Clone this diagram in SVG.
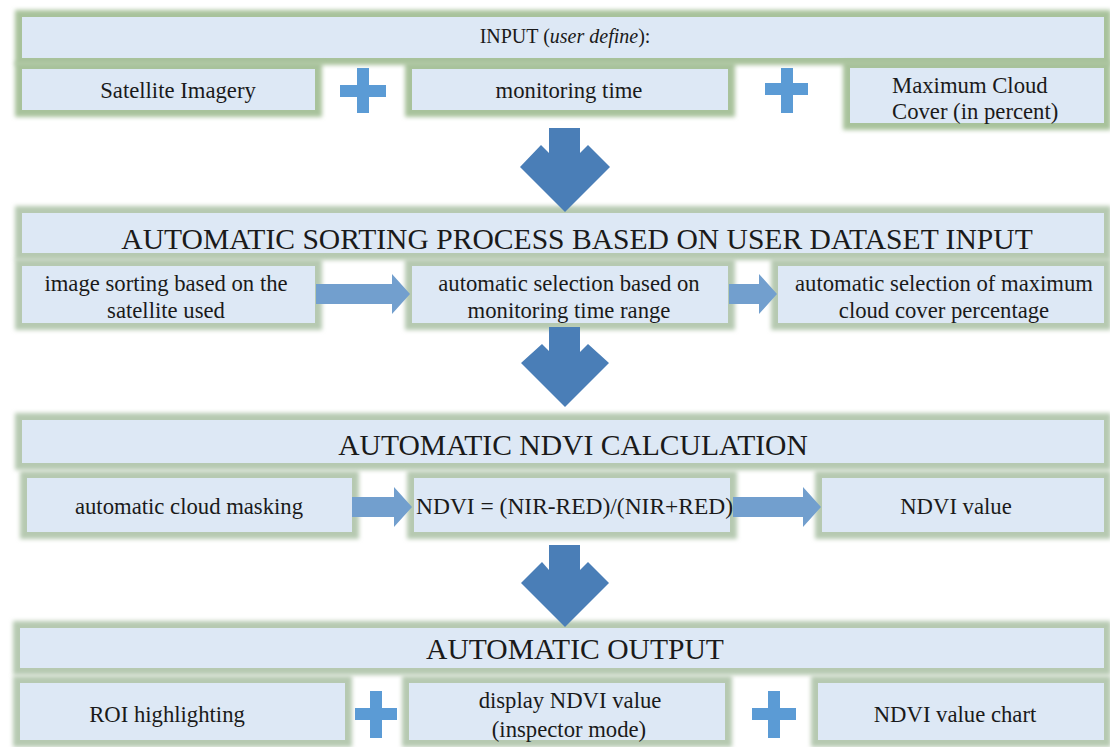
<svg xmlns="http://www.w3.org/2000/svg" width="1110" height="747" viewBox="0 0 1110 747">
<defs>
<filter id="glow" x="-10%" y="-30%" width="120%" height="160%"><feGaussianBlur stdDeviation="2"/></filter>
<style>
.f1{fill:#a8c29b;filter:url(#glow)}
.f{fill:#b6c9b1;filter:url(#glow)}
.b{fill:#dde8f5}
.t{fill:#1a1a1a;text-anchor:middle}
.h{font-size:29.6px}
.r{font-size:22.7px}
.dn{fill:#4a7eb7}
.ra{fill:#729fce}
.pl{fill:#5b9bd5}
</style>
</defs>
<rect width="1110" height="747" fill="#ffffff"/>
<g font-family="Liberation Serif, DejaVu Serif, serif">
<!-- Section 1 -->
<g id="input-header">
<rect class="f1" x="15" y="10" width="1096" height="55"/>
<rect class="b" x="22" y="17" width="1082" height="41"/>
<text class="t" x="565" y="43" font-size="20">INPUT (<tspan font-style="italic">user define</tspan>):</text>
</g>
<g id="satellite-imagery">
<rect class="f1" x="15" y="62" width="307" height="55"/>
<rect class="b" x="22" y="69" width="293" height="41"/>
<text class="t r" x="178" y="98">Satellite Imagery</text>
</g>
<g id="monitoring-time">
<rect class="f1" x="405" y="62" width="330" height="55"/>
<rect class="b" x="412" y="69" width="316" height="41"/>
<text class="t r" x="569" y="98">monitoring time</text>
</g>
<g id="max-cloud">
<rect class="f1" x="843" y="61" width="268" height="69"/>
<rect class="b" x="850" y="68" width="254" height="55"/>
<text class="t r" x="892" y="93" style="text-anchor:start">Maximum Cloud</text>
<text class="t r" x="892" y="119" style="text-anchor:start">Cover (in percent)</text>
</g>

<!-- Section 2 -->
<g id="sorting-header">
<rect class="f" x="15" y="206" width="1096" height="54"/>
<rect class="b" x="22" y="213" width="1082" height="40"/>
<text class="t h" x="577" y="249">AUTOMATIC SORTING PROCESS BASED ON USER DATASET INPUT</text>
</g>
<g id="sort-satellite">
<rect class="f" x="15" y="259" width="307" height="71"/>
<rect class="b" x="22" y="266" width="293" height="57"/>
<text class="t r" x="166" y="291">image sorting based on the</text>
<text class="t r" x="166" y="318">satellite used</text>
</g>
<g id="sort-time">
<rect class="f" x="405" y="259" width="330" height="71"/>
<rect class="b" x="412" y="266" width="316" height="57"/>
<text class="t r" x="569" y="291">automatic selection based on</text>
<text class="t r" x="569" y="318">monitoring time range</text>
</g>
<g id="sort-cloud">
<rect class="f" x="771" y="259" width="340" height="71"/>
<rect class="b" x="778" y="266" width="326" height="57"/>
<text class="t r" x="944" y="291">automatic selection of maximum</text>
<text class="t r" x="944" y="318">cloud cover percentage</text>
</g>

<!-- Section 3 -->
<g id="ndvi-header">
<rect class="f" x="15" y="413" width="1096" height="57"/>
<rect class="b" x="22" y="420" width="1082" height="43"/>
<text class="t h" x="573" y="455">AUTOMATIC NDVI CALCULATION</text>
</g>
<g id="cloud-masking">
<rect class="f" x="20" y="471" width="339" height="68"/>
<rect class="b" x="27" y="478" width="325" height="54"/>
<text class="t r" x="189" y="514">automatic cloud masking</text>
</g>
<g id="ndvi-formula">
<rect class="f" x="407" y="471" width="330" height="68"/>
<rect class="b" x="414" y="478" width="316" height="54"/>
<text class="t r" x="416" y="514" style="text-anchor:start" textLength="317" lengthAdjust="spacingAndGlyphs">NDVI = (NIR-RED)/(NIR+RED)</text>
</g>
<g id="ndvi-value">
<rect class="f" x="815" y="471" width="296" height="68"/>
<rect class="b" x="822" y="478" width="282" height="54"/>
<text class="t r" x="956" y="514">NDVI value</text>
</g>

<!-- Section 4 -->
<g id="output-header">
<rect class="f" x="13" y="621" width="1098" height="54"/>
<rect class="b" x="20" y="628" width="1084" height="40"/>
<text class="t h" x="575" y="659">AUTOMATIC OUTPUT</text>
</g>
<g id="roi-highlighting">
<rect class="f" x="13" y="676" width="339" height="71"/>
<rect class="b" x="20" y="683" width="325" height="57"/>
<text class="t r" x="167" y="722">ROI highlighting</text>
</g>
<g id="display-ndvi">
<rect class="f" x="402" y="676" width="330" height="71"/>
<rect class="b" x="409" y="683" width="316" height="57"/>
<text class="t r" x="570" y="708">display NDVI value</text>
<text class="t r" x="569" y="737">(inspector mode)</text>
</g>
<g id="ndvi-chart">
<rect class="f" x="811" y="676" width="300" height="71"/>
<rect class="b" x="818" y="683" width="286" height="57"/>
<text class="t r" x="955" y="722">NDVI value chart</text>
</g>
</g>

<!-- Connectors -->
<g id="connectors">
<polygon class="dn" points="549,128 580,128 580,153 588,145 610,167 565,212 520,167 541,145 549,153"/>
<polygon class="dn" points="549,327 580,327 580,352 588,344 609,363 565,407 521,363 542,344 549,351"/>
<polygon class="dn" points="549,545 580,545 580,570 588,562 609,583 565,627 521,583 542,562 549,570"/>
<polygon class="ra" points="316,284 392,284 392,274 410,294 392,314 392,304 316,304"/>
<polygon class="ra" points="729,284 759,284 759,274 777,294 759,314 759,304 729,304"/>
<polygon class="ra" points="352,497 394,497 394,487 412,507 394,527 394,517 352,517"/>
<polygon class="ra" points="733,497 803,497 803,487 821,507 803,527 803,517 733,517"/>
</g>

<!-- Plus operators -->
<g id="operators">
<rect class="pl" x="340" y="85" width="46" height="12"/>
<rect class="pl" x="357" y="68" width="12" height="45"/>
<rect class="pl" x="765" y="83" width="43" height="12"/>
<rect class="pl" x="781" y="68" width="12" height="45"/>
<rect class="pl" x="355" y="708" width="42" height="12"/>
<rect class="pl" x="370" y="691" width="12" height="47"/>
<rect class="pl" x="752" y="708" width="44" height="12"/>
<rect class="pl" x="768" y="691" width="12" height="47"/>
</g>
</svg>
